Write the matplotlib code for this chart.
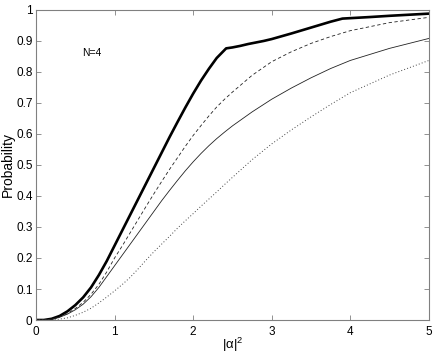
import matplotlib
matplotlib.use('Agg')
import matplotlib.pyplot as plt

plt.rcParams['font.family'] = ['Liberation Sans', 'DejaVu Sans']
plt.rcParams['mathtext.fontset'] = 'custom'
plt.rcParams['mathtext.rm'] = 'Liberation Sans'

# values, |alpha|^2 on x
x_thick = [0, 0.1, 0.2, 0.3, 0.4, 0.5, 0.6, 0.7, 0.8, 0.9, 1.0, 1.1, 1.2, 1.3,
           1.4, 1.5, 1.6, 1.7, 1.8, 1.9, 2.0, 2.1, 2.2, 2.3, 2.42,
           2.5, 2.6, 2.7, 2.8, 2.9, 3.0, 3.25, 3.5, 3.75, 3.9, 4.25, 4.5, 5.0]
y_thick = [0, 0, 0.004, 0.013, 0.028, 0.048, 0.073, 0.105, 0.145, 0.19, 0.24, 0.29, 0.34, 0.39,
           0.44, 0.49, 0.54, 0.59, 0.638, 0.685, 0.73, 0.772, 0.81, 0.845, 0.876,
           0.879, 0.884, 0.89, 0.895, 0.90, 0.906, 0.924, 0.943, 0.962, 0.972, 0.977, 0.981, 0.988]

x_grid = [0, 0.1, 0.2, 0.3, 0.4, 0.5, 0.6, 0.7, 0.8, 0.9, 1.0, 1.1, 1.2, 1.3,
          1.4, 1.5, 1.6, 1.7, 1.8, 1.9, 2.0, 2.1, 2.2, 2.3, 2.4, 2.5,
          2.75, 3.0, 3.25, 3.5, 3.75, 4.0, 4.5, 5.0]
y_dashed = [0, 0, 0.003, 0.010, 0.021, 0.037, 0.057, 0.083, 0.115, 0.155, 0.20, 0.24, 0.282, 0.324,
            0.366, 0.407, 0.447, 0.486, 0.523, 0.56, 0.595, 0.627, 0.658, 0.687, 0.712, 0.735,
            0.789, 0.833, 0.865, 0.892, 0.914, 0.933, 0.959, 0.976]
y_solid = [0, 0, 0.003, 0.009, 0.019, 0.033, 0.051, 0.075, 0.105, 0.14, 0.175, 0.21, 0.245, 0.28,
           0.315, 0.35, 0.385, 0.418, 0.45, 0.481, 0.51, 0.537, 0.562, 0.585, 0.606, 0.626,
           0.671, 0.712, 0.748, 0.781, 0.811, 0.837, 0.876, 0.908]
y_dotted = [0, 0, 0, 0.003, 0.007, 0.015, 0.025, 0.038, 0.055, 0.074, 0.094, 0.115, 0.138, 0.165,
            0.193, 0.22, 0.245, 0.27, 0.296, 0.32, 0.343, 0.367, 0.39, 0.413, 0.437, 0.46,
            0.517, 0.568, 0.613, 0.655, 0.695, 0.733, 0.79, 0.837]

fig = plt.figure(figsize=(4.36, 3.54), dpi=100)
ax = fig.add_axes([0.0826, 0.096, 0.901, 0.876])

ax.plot(x_thick, y_thick, color='k', lw=1.9, solid_joinstyle='round')
ax.plot(x_grid, y_dashed, color='#222222', lw=0.6, dashes=(4, 3))
ax.plot(x_grid, y_solid, color='#222222', lw=0.6)
ax.plot(x_grid, y_dotted, color='#444444', lw=0.7, linestyle=(0, (1, 2.2)))

ax.set_xlim(0, 5)
ax.set_ylim(0, 1)
ax.set_xticks([0, 1, 2, 3, 4, 5])
ax.set_xticklabels(['0', '1', '2', '3', '4', '5'])
yt = [0, 0.1, 0.2, 0.3, 0.4, 0.5, 0.6, 0.7, 0.8, 0.9, 1]
ax.set_yticks(yt)
ax.set_yticklabels(['0', '0.1', '0.2', '0.3', '0.4', '0.5', '0.6', '0.7', '0.8', '0.9', '1'])

for s in ax.spines.values():
    s.set_color('#808080')
    s.set_linewidth(0.8)
ax.tick_params(direction='in', top=True, right=True, length=3.5, width=0.6,
               color='#808080', labelsize=8.5, labelcolor='k', pad=2.5)
ax.tick_params(axis='x', pad=4)

ax.text(0.585, 0.861, 'N=4', fontsize=7.5, va='center', ha='left')
ax.set_xlabel(r'$\mathregular{|\alpha|^2}$', fontsize=9.5, labelpad=-1)
ax.set_ylabel('Probability', fontsize=10, labelpad=1)

fig.savefig('out.png', dpi=100)
